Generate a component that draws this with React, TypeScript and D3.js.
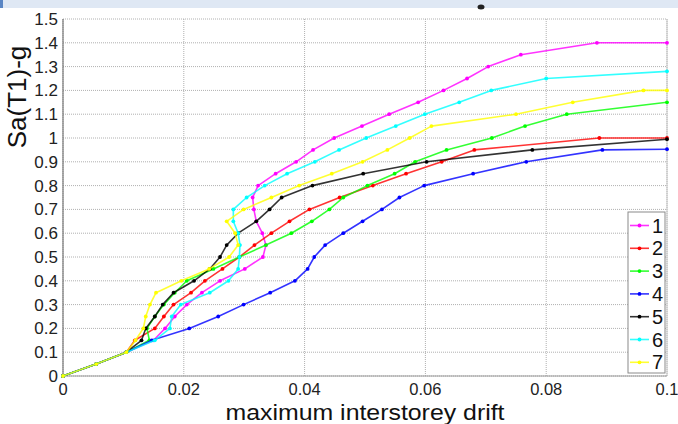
import React from "react";
import * as d3 from "d3";

const xTicks = [0, 0.02, 0.04, 0.06, 0.08, 0.1];
const xTickLabels = ["0", "0.02", "0.04", "0.06", "0.08", "0.1"];
const yTicks = [0, 0.1, 0.2, 0.3, 0.4, 0.5, 0.6, 0.7, 0.8, 0.9, 1, 1.1, 1.2, 1.3, 1.4, 1.5];
const yTickLabels = ["0", "0.1", "0.2", "0.3", "0.4", "0.5", "0.6", "0.7", "0.8", "0.9", "1", "1.1", "1.2", "1.3", "1.4", "1.5"];

const seriesNames = ["1", "2", "3", "4", "5", "6", "7"];
const seriesColors = ["#ff00ff", "#ff0000", "#00ff00", "#0000ff", "#000000", "#00ffff", "#ffff00"];

const drift1 = [0, 0.0055, 0.0105, 0.015, 0.0169, 0.0185, 0.0205, 0.023, 0.026, 0.0301, 0.0331, 0.0336, 0.033, 0.032, 0.0316, 0.0314, 0.0323, 0.0352, 0.0386, 0.0414, 0.0449, 0.0495, 0.054, 0.0588, 0.063, 0.0669, 0.0704, 0.0758, 0.0884, 0.1];
const sa1 = [0, 0.05, 0.1, 0.15, 0.2, 0.25, 0.3, 0.35, 0.4, 0.45, 0.5, 0.55, 0.6, 0.65, 0.7, 0.75, 0.8, 0.85, 0.9, 0.95, 1.0, 1.05, 1.1, 1.15, 1.2, 1.25, 1.3, 1.35, 1.4, 1.4];

const drift2 = [0, 0.0055, 0.0105, 0.0119, 0.0152, 0.0167, 0.0183, 0.0212, 0.0235, 0.0264, 0.0292, 0.0317, 0.0345, 0.0375, 0.0408, 0.0458, 0.0513, 0.0568, 0.0627, 0.0681, 0.0888, 0.1];
const sa2 = [0, 0.05, 0.1, 0.15, 0.2, 0.25, 0.3, 0.35, 0.4, 0.45, 0.5, 0.55, 0.6, 0.65, 0.7, 0.75, 0.8, 0.85, 0.9, 0.95, 1.0, 1.0];

const drift3 = [0, 0.0055, 0.0105, 0.0143, 0.0139, 0.0152, 0.0167, 0.0185, 0.0205, 0.0249, 0.0292, 0.0336, 0.0378, 0.0412, 0.0441, 0.0464, 0.0504, 0.0549, 0.0583, 0.0635, 0.071, 0.0765, 0.0834, 0.1];
const sa3 = [0, 0.05, 0.1, 0.15, 0.2, 0.25, 0.3, 0.35, 0.4, 0.45, 0.5, 0.55, 0.6, 0.65, 0.7, 0.75, 0.8, 0.85, 0.9, 0.95, 1.0, 1.05, 1.1, 1.15];

const drift4 = [0, 0.0055, 0.0105, 0.0147, 0.0209, 0.0257, 0.0299, 0.0343, 0.0384, 0.0405, 0.0416, 0.0434, 0.0464, 0.0496, 0.0528, 0.0557, 0.0598, 0.0679, 0.0767, 0.0893, 0.1];
const sa4 = [0, 0.05, 0.1, 0.15, 0.2, 0.25, 0.3, 0.35, 0.4, 0.45, 0.5, 0.55, 0.6, 0.65, 0.7, 0.75, 0.8, 0.85, 0.9, 0.95, 0.953];

const drift5 = [0, 0.0055, 0.0105, 0.013, 0.0137, 0.0152, 0.0165, 0.0183, 0.0217, 0.0243, 0.026, 0.0271, 0.029, 0.032, 0.0342, 0.0362, 0.0413, 0.0497, 0.0602, 0.0777, 0.1];
const sa5 = [0, 0.05, 0.1, 0.15, 0.2, 0.25, 0.3, 0.35, 0.4, 0.45, 0.5, 0.55, 0.6, 0.65, 0.7, 0.75, 0.8, 0.85, 0.9, 0.95, 0.995];

const drift6 = [0, 0.0055, 0.0105, 0.0152, 0.0177, 0.018, 0.0195, 0.0243, 0.0274, 0.029, 0.0292, 0.0293, 0.029, 0.0282, 0.0282, 0.0304, 0.0334, 0.0371, 0.0417, 0.0457, 0.0502, 0.0551, 0.0599, 0.0656, 0.0709, 0.08, 0.1];
const sa6 = [0, 0.05, 0.1, 0.15, 0.2, 0.25, 0.3, 0.35, 0.4, 0.45, 0.5, 0.55, 0.6, 0.65, 0.7, 0.75, 0.8, 0.85, 0.9, 0.95, 1.0, 1.05, 1.1, 1.15, 1.2, 1.25, 1.28];

const drift7 = [0, 0.0055, 0.0105, 0.012, 0.0133, 0.0137, 0.0144, 0.0154, 0.0196, 0.0242, 0.0275, 0.029, 0.0285, 0.0271, 0.0299, 0.0345, 0.0391, 0.0445, 0.0496, 0.0537, 0.0574, 0.061, 0.075, 0.0844, 0.0961, 0.1];
const sa7 = [0, 0.05, 0.1, 0.15, 0.2, 0.25, 0.3, 0.35, 0.4, 0.45, 0.5, 0.55, 0.6, 0.65, 0.7, 0.75, 0.8, 0.85, 0.9, 0.95, 1.0, 1.05, 1.1, 1.15, 1.2, 1.2];

const drifts = [drift1, drift2, drift3, drift4, drift5, drift6, drift7];
const sas = [sa1, sa2, sa3, sa4, sa5, sa6, sa7];

const W = 678;
const H = 424;
const L = 63;
const R = 667;
const T = 19;
const B = 376;

export default function App() {
  const x = d3.scaleLinear().domain([0, 0.1]).range([L, R]);
  const y = d3.scaleLinear().domain([0, 1.5]).range([B, T]);
  const line = d3
    .line<[number, number]>()
    .x((d) => x(d[0]))
    .y((d) => y(d[1]));

  const font = "'Liberation Sans', Arial, sans-serif";
  const legX = 628;
  const legY = 212;
  const legStep = 22.8;

  return (
    <div style={{ position: "fixed", left: 0, top: 0, width: W, height: H, background: "#fff" }}>
      <svg width={W} height={H} style={{ display: "block" }}>
        <rect x={0} y={0} width={W} height={H} fill="#fff" />
        <rect x={0} y={0} width={W} height={8} fill="#dfe8f4" />
        <rect x={0} y={0} width={3} height={8} fill="#5a86c4" />
        <ellipse cx={481} cy={7} rx={3.5} ry={2.5} fill="#222" />

        {/* grid */}
        {xTicks.map((t, i) => (
          <line key={"gx" + i} x1={x(t)} x2={x(t)} y1={T} y2={B} stroke="#b0b0b0" strokeDasharray="1,1" strokeWidth={1} />
        ))}
        {yTicks.map((t, i) => (
          <line key={"gy" + i} x1={L} x2={R} y1={y(t)} y2={y(t)} stroke="#b0b0b0" strokeDasharray="1,1" strokeWidth={1} />
        ))}
        {/* box */}
        <line x1={R} x2={R} y1={T} y2={B} stroke="#c4c4c4" strokeWidth={1} />
        <line x1={L} x2={R} y1={B} y2={B} stroke="#9a9a9a" strokeWidth={1} />
        <line x1={L} x2={L} y1={T} y2={B} stroke="#777" strokeWidth={1.2} />

        {/* series */}
        {drifts.map((dx, si) => {
          const pts: [number, number][] = dx.map((v, i) => [v, sas[si][i]]);
          return (
            <g key={"s" + si}>
              <path d={line(pts) || ""} fill="none" stroke={seriesColors[si]} strokeWidth={1.6} strokeOpacity={0.8} strokeLinejoin="round" />
              {pts.map((p, i) => (
                <circle key={i} cx={x(p[0])} cy={y(p[1])} r={1.9} fill={seriesColors[si]} />
              ))}
            </g>
          );
        })}

        {/* tick labels */}
        {yTicks.map((t, i) => (
          <text key={"ty" + i} x={58} y={y(t) + 6} textAnchor="end" fontFamily={font} fontSize={17} fill="#222">
            {yTickLabels[i]}
          </text>
        ))}
        {xTicks.map((t, i) => (
          <text key={"tx" + i} x={x(t)} y={395} textAnchor="middle" fontFamily={font} fontSize={16.5} fill="#222">
            {xTickLabels[i]}
          </text>
        ))}

        <text
          x={365}
          y={420}
          textAnchor="middle"
          fontFamily={font}
          fontSize={22.5}
          fill="#111"
          textLength={279}
          lengthAdjust="spacingAndGlyphs"
        >
          maximum interstorey drift
        </text>
        <text transform={`translate(26,97) rotate(-90)`} textAnchor="middle" fontFamily={font} fontSize={26} fill="#111">
          Sa(T1)-g
        </text>

        {/* legend */}
        <rect x={legX} y={legY} width={37} height={161} fill="#fff" stroke="#8a8a8a" strokeWidth={1} />
        {seriesNames.map((n, i) => {
          const cy = legY + 13.5 + i * legStep;
          return (
            <g key={"lg" + i}>
              <line x1={legX + 2} x2={legX + 21} y1={cy} y2={cy} stroke={seriesColors[i]} strokeWidth={1.6} strokeOpacity={0.8} />
              <circle cx={legX + 11.5} cy={cy} r={1.9} fill={seriesColors[i]} />
              <text x={legX + 24} y={cy + 7} fontFamily={font} fontSize={20} fill="#111">
                {n}
              </text>
            </g>
          );
        })}
      </svg>
    </div>
  );
}
